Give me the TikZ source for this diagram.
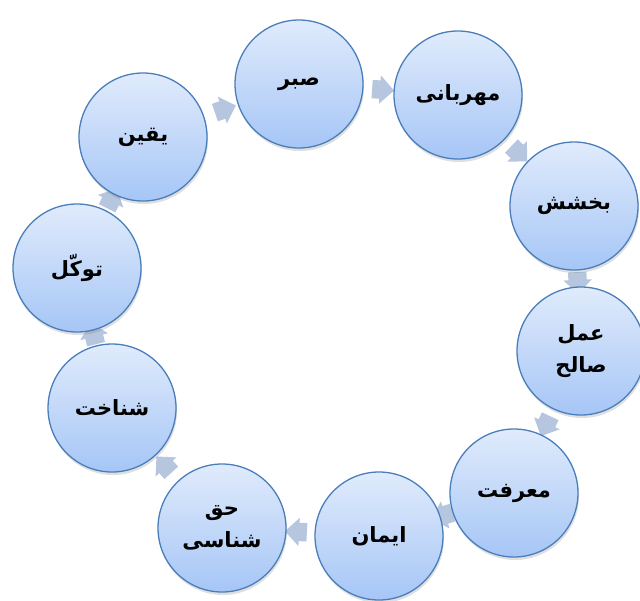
\documentclass[tikz,border=0pt]{standalone}
\usepackage{fontspec}
\newfontfamily\arabicfont[Script=Arabic]{DejaVu Sans}
\TeXXeTstate=1
\usetikzlibrary{calc,shadows,shapes.arrows,backgrounds}
\definecolor{ringblue}{RGB}{74,126,187}
\definecolor{topblue}{RGB}{224,235,252}
\definecolor{botblue}{RGB}{166,198,246}
\definecolor{arrowgray}{RGB}{182,198,222}

\begin{document}
\begin{tikzpicture}[x=1pt,y=-1pt,
  stage/.style={circle,draw=ringblue,line width=1.3pt,minimum size=128pt,inner sep=0pt,
    top color=topblue,bottom color=botblue,
    drop shadow={opacity=0.25,shadow xshift=1pt,shadow yshift=-3pt},
    font=\arabicfont\bfseries\fontsize{21}{32}\selectfont,align=center},
  cyclearrow/.style={single arrow,fill=arrowgray,draw=none,minimum height=22pt,
    inner xsep=0pt,inner ysep=9pt,single arrow head extend=5pt}]
\useasboundingbox (0,0) rectangle (640,600);

% the ring of stages, clockwise from the top
\node[stage] (sabr)  at (299,84)  {\beginR صبر\endR};
\node[stage] (mehr)  at (458,95)  {\beginR مهربانی\endR};
\node[stage] (bakh)  at (574,206) {\beginR بخشش\endR};
\node[stage] (amal)  at (581,351) {\beginR عمل\endR\\\beginR صالح\endR};
\node[stage] (maref) at (514,493) {\beginR معرفت\endR};
\node[stage] (iman)  at (379,536) {\beginR ایمان\endR};
\node[stage] (haqq)  at (222,528) {\beginR حق\endR\\\beginR شناسی\endR};
\node[stage] (shen)  at (112,408) {\beginR شناخت\endR};
\node[stage] (tavak) at (77,268)  {\beginR توکّل\endR};
\node[stage] (yaqin) at (143,137) {\beginR یقین\endR};

% arrows in the gaps
\begin{scope}[on background layer]
\foreach \a/\b in {sabr/mehr,mehr/bakh,bakh/amal,amal/maref,maref/iman,
                   iman/haqq,haqq/shen,shen/tavak,tavak/yaqin,yaqin/sabr}
  \path let \p1=(\a.center), \p2=(\b.center), \n1={atan2(\y2-\y1,\x2-\x1)} in
    node[cyclearrow,rotate=\n1] (\a-arr) at ($(\p1)!0.5!(\p2)$) {};
\end{scope}
\end{tikzpicture}
\end{document}
